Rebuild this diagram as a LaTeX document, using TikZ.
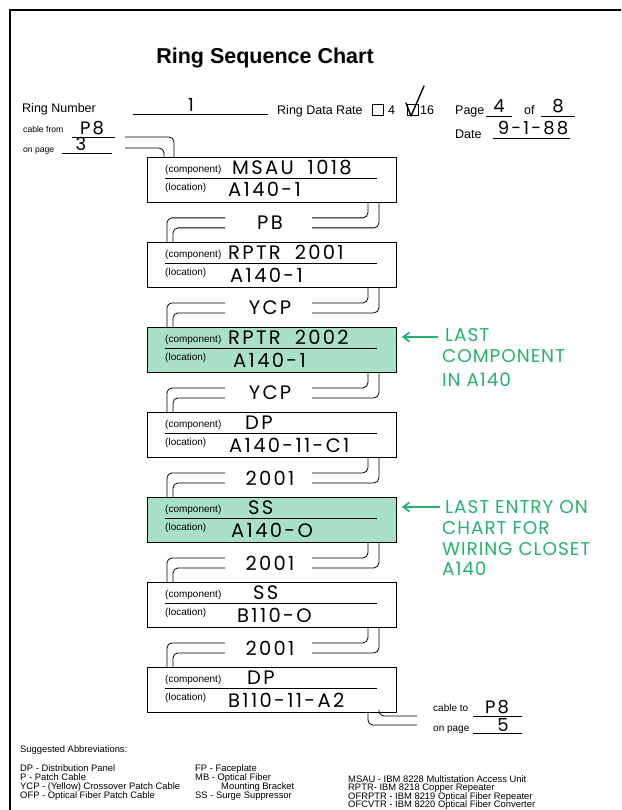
\documentclass[tikz,border=0pt]{standalone}
\usepackage{fontspec}
\setmainfont{Liberation Sans}
\newfontfamily\hand{Poppins}[LetterSpace=12]
\newfontfamily\annfont{Poppins}[LetterSpace=5]
\usetikzlibrary{calc,arrows.meta}
\definecolor{mint}{RGB}{168,225,200}
\definecolor{ink}{RGB}{38,178,108}
\tikzset{
  formtxt/.style={font=\fontsize{12.5}{14}\selectfont, inner sep=0pt, anchor=base west},
  smalltxt/.style={font=\fontsize{8.6}{10}\selectfont, inner sep=0pt, anchor=base west},
  midtxt/.style={font=\fontsize{10}{12}\selectfont, inner sep=0pt, anchor=base west},
  lbltxt/.style={font=\fontsize{10}{12}\selectfont, inner sep=0pt, anchor=base west},
  hw/.style={font=\hand\fontsize{19.5}{22}\selectfont, inner sep=0pt},
  hws/.style={font=\hand\fontsize{18}{20}\selectfont, inner sep=0pt, anchor=base},
  anntxt/.style={font=\annfont\fontsize{18.5}{20}\selectfont, text=ink, inner sep=0pt, anchor=west},
  cbox/.style={draw, line width=0.9pt, minimum width=249pt, minimum height=45pt, inner sep=0pt, anchor=north west},
  cable/.style={line width=0.8pt, rounded corners=5pt},
  abbr/.style={font=\fontsize{9.4}{10}\selectfont, inner sep=0pt, anchor=base west},
  arr/.style={ink, line width=1.8pt, -{Straight Barb[length=6pt,width=9pt]}},
  fline/.style={line width=0.7pt}
}
\begin{document}
\begin{tikzpicture}[x=1pt,y=-1pt]
\useasboundingbox (0,0) rectangle (621,810);
% frame
\draw[line width=1.5pt] (10,810) -- (10,10) -- (621,10);
% title
\node[font=\bfseries\fontsize{21.5}{24}\selectfont, inner sep=0pt] (title) at (265,58) {Ring Sequence Chart};
% header
\node[formtxt] (rnum) at (22,112.5) {Ring Number};
\draw[fline] (133,114) -- (268,114);
\node[hws] (rnumv) at (191,112) {1};
\node[formtxt] (rate) at (277,114.5) {Ring Data Rate};
\draw[line width=0.8pt] (372,104.5) rectangle (383,115);
\node[formtxt] (r4) at (388,114.5) {4};
\draw[line width=0.8pt] (407,104.5) rectangle (418,115);
\draw[line width=1.4pt, line cap=round, line join=round] (406,103) -- (411,116) -- (424,86);
\node[formtxt] (r16) at (420,114.5) {16};
\node[formtxt] (page) at (455,114.5) {Page};
\draw[fline] (486,116) -- (512,116);
\node[hws] (pagev) at (499,113) {4};
\node[formtxt] (of) at (524,114.5) {of};
\draw[fline] (541,116) -- (575,116);
\node[hws] (ofv) at (558,113) {8};
\node[formtxt] (date) at (455,139) {Date};
\draw[fline] (493,138) -- (570,138);
\node[hws] (datev) at (533,135) {9-1-88};
\node[smalltxt] (cfrom) at (23,133) {cable from};
\draw[fline] (72,137.5) -- (115,137.5);
\node[hws] (cfromv) at (92,134.5) {P8};
\node[smalltxt] (onp) at (23,153) {on page};
\draw[fline] (62,153) -- (112,153);
\node[hws] (onpv) at (81,151) {3};
% boxes
\foreach \i/\comp/\cx/\loc/\lx/\fc in {
  0/{MSAU\hspace{14pt}1018}/232/A140-1/228/white,
  1/{RPTR\hspace{14pt}2001}/228/A140-1/230/white,
  2/{RPTR\hspace{14pt}2002}/228/A140-1/233/mint,
  3/DP/245/A140-11-C1/229/white,
  4/SS/248/A140-O/231/mint,
  5/SS/253/B110-O/237/white,
  6/DP/247/B110-11-A2/228/white}{
  \pgfmathsetmacro\t{157+85*\i}
  \node[cbox, fill=\fc] (box\i) at (147,\t) {};
  \draw[line width=0.6pt] ($(box\i.north west)+(18,21)$) -- ($(box\i.north west)+(230,21)$);
  \node[lbltxt] (ct\i) at ($(box\i.north west)+(18,15.5)$) {(component)};
  \node[lbltxt] (lt\i) at ($(box\i.north west)+(18,33.5)$) {(location)};
  \node[hw, anchor=base west] (cv\i) at (\cx,\t+17.5) {\comp};
  \node[hw, anchor=base west] (lv\i) at (\lx,\t+40) {\loc};
}
% incoming cable
\coordinate (cinA) at (125,137);
\coordinate (cinB) at (125,148);
\draw[cable] (cinA) -| ($(box0.north west)+(27,0)$);
\draw[cable] (cinB) -| ($(box0.north west)+(17,0)$);
% cables between boxes
\foreach \i/\j/\lab in {0/1/PB,1/2/YCP,2/3/YCP,3/4/2001,4/5/2001,5/6/2001}{
  \draw[cable] ($(box\i.south east)+(-29,0)$) |- ($(box\i.south west)+(165,15)$);
  \draw[cable] ($(box\i.south east)+(-18,0)$) |- ($(box\i.south west)+(165,25)$);
  \draw[cable] ($(box\i.south west)+(78,15)$) -| ($(box\j.north west)+(20,0)$);
  \draw[cable] ($(box\i.south west)+(78,25)$) -| ($(box\j.north west)+(26,0)$);
  \node[hw] (lab\i) at ($(box\i.south west)+(123,20)$) {\lab};
}
% outgoing cable
\coordinate (coutA) at (417,716);
\coordinate (coutB) at (417,725);
\draw[cable] ($(box6.south east)+(-18,0)$) |- (coutA);
\draw[cable] ($(box6.south east)+(-29,0)$) |- (coutB);
\node[midtxt] (cto) at (433,711) {cable to};
\draw[fline] (473,716) -- (522,716);
\node[hws] (ctov) at (497,713) {P8};
\node[midtxt] (onp2) at (433,731) {on page};
\draw[fline] (473,733) -- (522,733);
\node[hws] (onp2v) at (503,731) {5};
% annotations
\draw[arr] (438,337) -- ($(box2.north east)+(5,10)$);
\node[anntxt] (a1) at (445,335) {LAST};
\node[anntxt] (a2) at (442,356) {COMPONENT};
\node[anntxt] (a3) at (442,380) {IN A140};
\draw[arr] (440,507) -- ($(box4.north east)+(5,10)$);
\node[anntxt] (b1) at (445,507) {LAST ENTRY ON};
\node[anntxt] (b2) at (442,528) {CHART FOR};
\node[anntxt] (b3) at (442,549) {WIRING CLOSET};
\node[anntxt] (b4) at (442,569) {A140};
% abbreviations
\node[abbr] (sugg) at (20,752) {Suggested Abbreviations:};
\node[abbr] (ab1) at (20,771) {DP - Distribution Panel};
\node[abbr] (ab2) at (20,780) {P - Patch Cable};
\node[abbr] (ab3) at (20,789) {YCP - (Yellow) Crossover Patch Cable};
\node[abbr] (ab4) at (20,798) {OFP - Optical Fiber Patch Cable};
\node[abbr] (ab5) at (195,771) {FP - Faceplate};
\node[abbr] (ab6) at (195,780) {MB - Optical Fiber};
\node[abbr] (ab7) at (221,789) {Mounting Bracket};
\node[abbr] (ab8) at (195,798) {SS - Surge Suppressor};
\node[abbr] (ab9) at (348,782) {MSAU - IBM 8228 Multistation Access Unit};
\node[abbr] (ab10) at (348,790.5) {RPTR- IBM 8218 Copper Repeater};
\node[abbr] (ab11) at (348,799) {OFRPTR - IBM 8219 Optical Fiber Repeater};
\node[abbr] (ab12) at (348,807.5) {OFCVTR - IBM 8220 Optical Fiber Converter};
\end{tikzpicture}
\end{document}
